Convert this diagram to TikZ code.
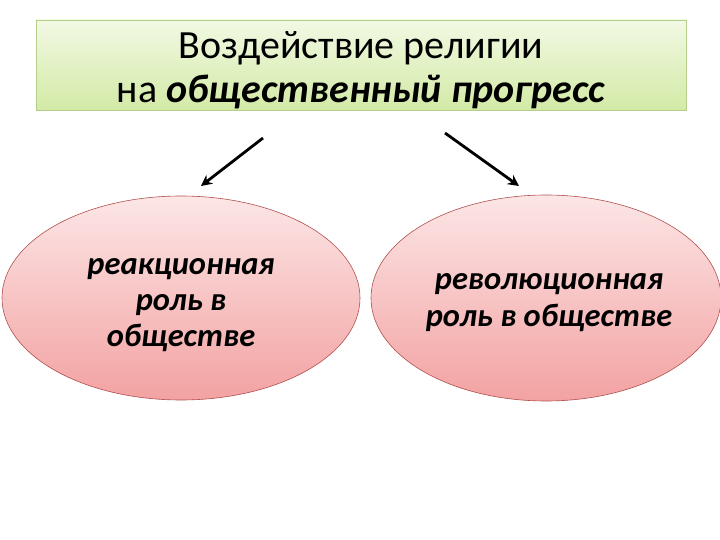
\documentclass[tikz,border=0pt]{standalone}
\usepackage{fontspec}
\setmainfont{Carlito}
\usetikzlibrary{arrows.meta,shapes.geometric}
\definecolor{boxtop}{HTML}{F2F9E4}
\definecolor{boxbot}{HTML}{D3EAA6}
\definecolor{boxline}{HTML}{B5CF8A}
\definecolor{elltop}{HTML}{FCE6E6}
\definecolor{ellbot}{HTML}{F3A2A2}
\definecolor{elline}{HTML}{B0504E}
\tikzset{
  titlebox/.style={draw=boxline, line width=0.8pt, top color=boxtop, bottom color=boxbot, minimum width=650pt, minimum height=90pt, inner sep=0pt},
  roleell/.style={ellipse, draw=elline, line width=0.6pt, top color=elltop, bottom color=ellbot, inner sep=0pt},
  rolearrow/.style={line width=2.8pt, -{Stealth[length=11pt,width=11pt]}},
}
\begin{document}
\begin{tikzpicture}[x=1pt,y=-1pt]
\useasboundingbox (0,0) rectangle (720,540);
\node[titlebox] (title) at (361,65) {};
\node[align=center, font=\fontsize{40}{44}\selectfont] (titletext) at (361,70)
  {Воздействие религии\\на \textbf{\textit{общественный прогресс}}};
\node[roleell, minimum width=358pt, minimum height=204pt] (left) at (181,298) {};
\node[roleell, minimum width=350pt, minimum height=206pt] (right) at (546,298) {};
\node[align=center, font=\fontsize{32.5}{36}\selectfont\bfseries\itshape] (lefttext) at (181,305)
  {реакционная\\роль в\\обществе};
\node[align=center, font=\fontsize{32.5}{37}\selectfont\bfseries\itshape] (righttext) at (549,303)
  {революционная\\роль в обществе};
\coordinate (a1s) at (263,138);
\coordinate (a1e) at (201,186);
\coordinate (a2s) at (445,133);
\coordinate (a2e) at (519,186);
\draw[rolearrow] (a1s) -- (a1e);
\draw[rolearrow] (a2s) -- (a2e);
\end{tikzpicture}
\end{document}
